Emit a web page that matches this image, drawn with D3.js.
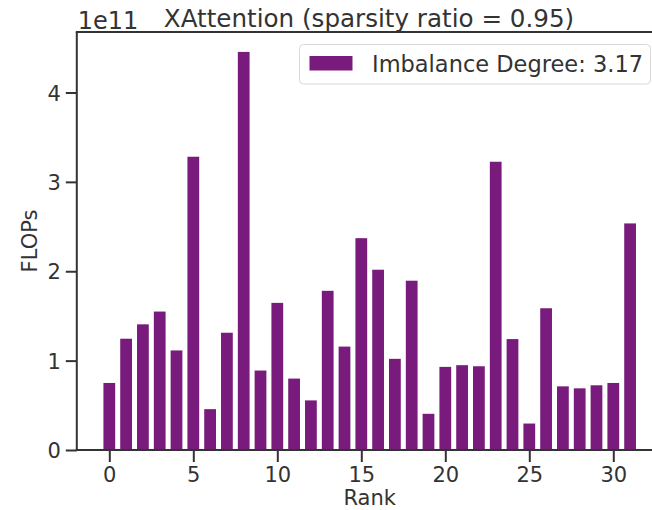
<!DOCTYPE html>
<html>
<head>
<meta charset="utf-8">
<script src="https://cdn.jsdelivr.net/npm/d3@7"></script>
<style>
  body { margin: 0; background: #fff; overflow: hidden; }
  svg { display: block; }
  text { font-family: "DejaVu Sans", sans-serif; fill: #333; }
</style>
</head>
<body>
<svg width="652" height="510"></svg>
<script>
// data (FLOPs per rank)
const ranks = d3.range(32);
const flops = [
  0.75e11, 1.245e11, 1.406e11, 1.549e11, 1.114e11, 3.281e11, 0.457e11, 1.312e11,
  4.454e11, 0.889e11, 1.646e11, 0.799e11, 0.555e11, 1.781e11, 1.157e11, 2.37e11,
  2.017e11, 1.02e11, 1.894e11, 0.405e11, 0.93e11, 0.949e11, 0.937e11, 3.225e11,
  1.241e11, 0.296e11, 1.586e11, 0.712e11, 0.69e11, 0.724e11, 0.75e11, 2.535e11
];
const xTicks = [0, 5, 10, 15, 20, 25, 30];
const yTicks = [0, 1e11, 2e11, 3e11, 4e11];
const titleText = "XAttention (sparsity ratio = 0.95)";
const legendText = "Imbalance Degree: 3.17";

const barColor = "#781b7c";
const axisColor = "#333";

// plot area (right edge falls a bit outside the picture, like the source)
const pLeft = 76.8, pRight = 662.6, pTop = 32, pBottom = 450;
const barW = 0.7;

const svg = d3.select("svg");

const x = d3.scaleLinear()
    .domain([-barW / 2 - 0.05 * (31 + barW), 31 + barW / 2 + 0.05 * (31 + barW)])
    .range([pLeft, pRight]);
const yMax = d3.max(flops) * 1.05;
const y = d3.scaleLinear().domain([0, yMax]).range([pBottom, pTop]);

// bars
svg.append("g")
  .selectAll("rect")
  .data(ranks)
  .enter().append("rect")
    .attr("x", i => x(i - barW / 2))
    .attr("width", i => x(i + barW / 2) - x(i - barW / 2))
    .attr("y", i => y(flops[i]))
    .attr("height", i => pBottom - y(flops[i]))
    .attr("fill", barColor);

// axes
const xAxis = svg.append("g")
    .attr("transform", `translate(0,${pBottom})`)
    .call(d3.axisBottom(x).tickValues(xTicks).tickSize(12).tickPadding(5).tickFormat(d3.format("d")));
const yAxis = svg.append("g")
    .attr("transform", `translate(${pLeft},0)`)
    .call(d3.axisLeft(y).tickValues(yTicks).tickSize(11).tickPadding(5).tickFormat(d => d / 1e11));

[xAxis, yAxis].forEach(g => {
  g.select(".domain").remove();
  g.selectAll(".tick line").attr("stroke", axisColor).attr("stroke-width", 2);
  g.selectAll(".tick text").attr("font-size", 21).attr("fill", "#333")
    .attr("font-family", "DejaVu Sans");
});
yAxis.selectAll(".tick text").attr("dy", "0.36em");

// spines (right one is outside the visible area)
const spines = svg.append("g").attr("stroke", axisColor).attr("stroke-width", 2);
spines.append("line").attr("x1", pLeft).attr("x2", pLeft).attr("y1", pTop).attr("y2", pBottom);
spines.append("line").attr("x1", pLeft - 1).attr("x2", pRight).attr("y1", pBottom).attr("y2", pBottom);
spines.append("line").attr("x1", pLeft - 1).attr("x2", pRight).attr("y1", pTop).attr("y2", pTop);

// offset text and title
svg.append("text")
    .attr("x", pLeft + 1).attr("y", 29)
    .attr("font-size", 24)
    .text("1e11");
svg.append("text")
    .attr("x", 369).attr("y", 27)
    .attr("text-anchor", "middle")
    .attr("font-size", 24.6)
    .text(titleText);

// axis labels
svg.append("text")
    .attr("x", (pLeft + pRight) / 2).attr("y", 505)
    .attr("text-anchor", "middle")
    .attr("font-size", 21)
    .text("Rank");
svg.append("text")
    .attr("transform", `translate(37,${(pTop + pBottom) / 2}) rotate(-90)`)
    .attr("text-anchor", "middle")
    .attr("font-size", 21)
    .text("FLOPs");

// legend
const lg = svg.append("g");
lg.append("rect")
    .attr("x", 299.5).attr("y", 44.5)
    .attr("width", 351).attr("height", 39.5)
    .attr("rx", 4)
    .attr("fill", "#fff").attr("fill-opacity", 0.8)
    .attr("stroke", "#d8d8d8").attr("stroke-width", 1);
lg.append("rect")
    .attr("x", 309.5).attr("y", 56)
    .attr("width", 43).attr("height", 14.5)
    .attr("fill", barColor);
lg.append("text")
    .attr("x", 372).attr("y", 71.5)
    .attr("font-size", 22.5)
    .text(legendText);
</script>
</body>
</html>
